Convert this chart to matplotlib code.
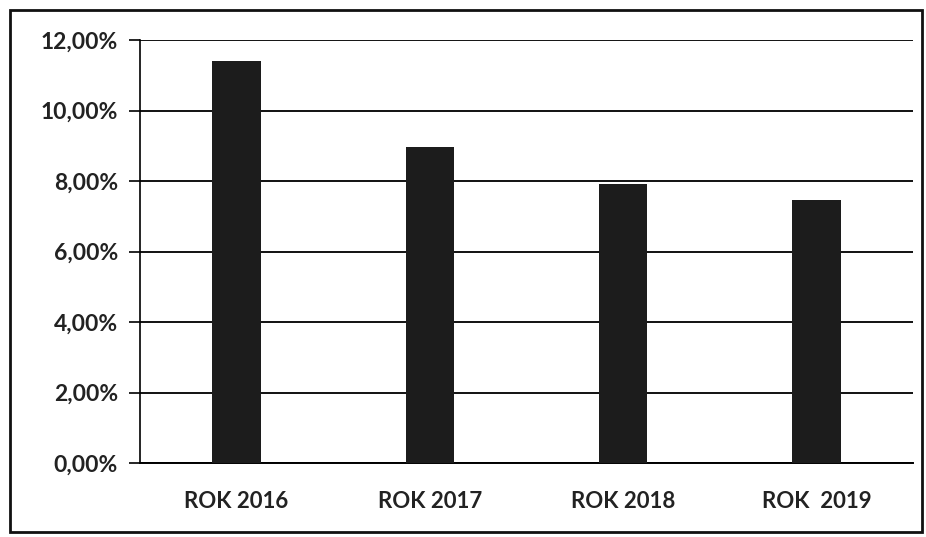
import matplotlib.pyplot as plt
from matplotlib.patches import Rectangle
from matplotlib.ticker import FuncFormatter

years = ['ROK 2016', 'ROK 2017', 'ROK 2018', 'ROK  2019']
values = [11.4, 8.97, 7.92, 7.45]   # %

plt.rcParams['font.family'] = ['Lato', 'DejaVu Sans']

fig = plt.figure(figsize=(9.26, 5.37), dpi=100)
ax = fig.add_axes([140 / 926, 1 - 463 / 537, 773 / 926, 423 / 537])

ax.bar(range(len(years)), values, width=0.25, color='#1c1c1c', zorder=3)

ax.set_ylim(0, 12)
ax.set_xlim(-0.5, len(years) - 0.5)
ax.set_yticks(range(0, 13, 2))
ax.yaxis.set_major_formatter(FuncFormatter(lambda v, p: f'{v:.2f}%'.replace('.', ',')))
ax.set_xticks(range(len(years)))
ax.set_xticklabels(years)

ax.grid(axis='y', color='#111111', linewidth=1.4, zorder=0)
for s in ['top', 'right']:
    ax.spines[s].set_visible(False)
ax.spines['left'].set_linewidth(1.2)
ax.spines['bottom'].set_linewidth(1.4)
ax.tick_params(axis='y', length=8, width=1.2, labelsize=16.5, pad=8)
ax.tick_params(axis='x', length=0, labelsize=16, pad=20)
for lbl in ax.get_xticklabels() + ax.get_yticklabels():
    lbl.set_fontweight('bold')
    lbl.set_color('#222222')

# outer frame of the scanned chart
fig.patches.append(Rectangle((10 / 926, 5 / 537), 912 / 926, 522 / 537,
                             transform=fig.transFigure, fill=False,
                             edgecolor='#111111', linewidth=2))

fig.savefig('out.png', dpi=100)
